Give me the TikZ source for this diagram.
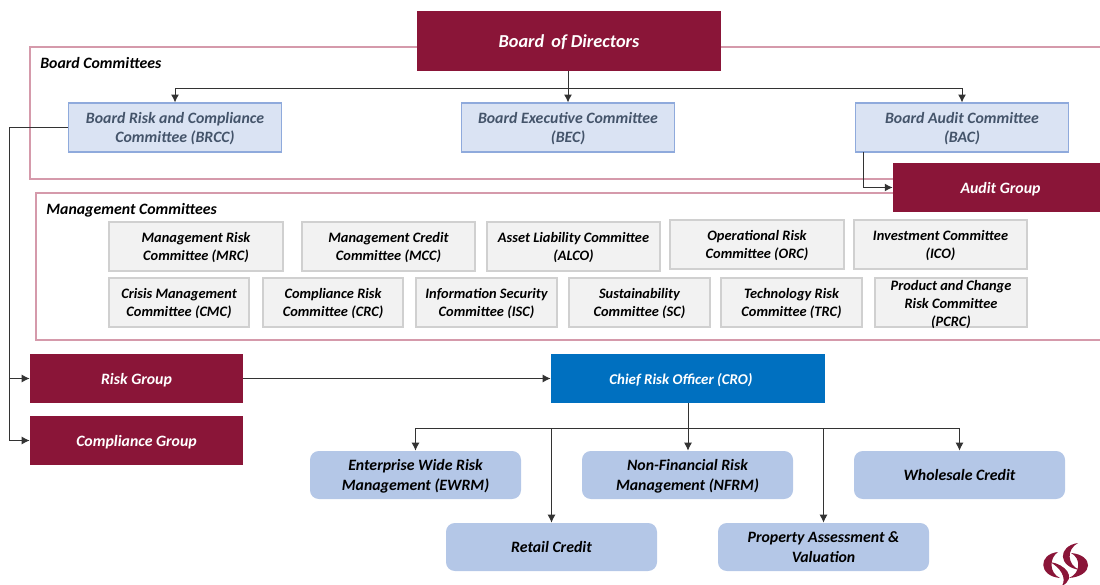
\documentclass[tikz,border=0pt]{standalone}
\usepackage{fontspec}
\setmainfont{Carlito}
\usepackage{xcolor}
\usepackage{tikz}
\usetikzlibrary{arrows.meta}
\definecolor{wine}{HTML}{8A1538}
\definecolor{framerose}{HTML}{D59AAB}
\definecolor{boardfill}{HTML}{DAE3F3}
\definecolor{boardline}{HTML}{8FAADC}
\definecolor{boardtext}{HTML}{44546A}
\definecolor{mgmtfill}{HTML}{F2F2F2}
\definecolor{mgmtline}{HTML}{D0D0D0}
\definecolor{croblue}{HTML}{0070C0}
\definecolor{deptfill}{HTML}{B4C7E7}
\definecolor{linkgrey}{HTML}{333333}
\tikzset{
  every node/.style={font=\bfseries\itshape\fontsize{9}{11.3}\selectfont, align=center, inner sep=0pt, text depth=0pt},
  winebox/.style={fill=wine, text=white, minimum height=0.98cm},
  boardbox/.style={draw=boardline, fill=boardfill, text=boardtext, line width=0.6pt, minimum width=4.26cm, minimum height=0.98cm},
  mgmtbox/.style={draw=mgmtline, fill=mgmtfill, line width=0.6pt, minimum height=0.98cm, font=\bfseries\itshape\fontsize{8.2}{10.2}\selectfont},
  deptbox/.style={fill=deptfill, rounded corners=5pt, minimum width=4.22cm, minimum height=0.96cm},
  frame/.style={draw=framerose, line width=0.7pt},
  link/.style={draw=linkgrey, line width=0.55pt},
  linkarrow/.style={link, -{Latex[length=4.5pt,width=4.5pt]}}
}

\begin{document}
\begin{tikzpicture}
        \useasboundingbox (0,0) rectangle (22,-11.7);

        % Frames
        \draw[frame] (0.6,-0.94) rectangle (22.2,-3.58);
        \draw[frame] (0.72,-3.86) rectangle (22.2,-6.8);
        \node[anchor=west] (boardtitle) at (0.8,-1.25) {Board Committees};
        \node[anchor=west] (mgmttitle) at (0.92,-4.17) {Management Committees};

        % Board
        \node[winebox, minimum width=6.08cm, minimum height=1.2cm, font=\bfseries\itshape\fontsize{10.4}{12}\selectfont] (bod) at (11.38,-0.82) {Board\, of Directors};
        \node[boardbox] (brcc) at (3.5,-2.55) {Board Risk and Compliance\\Committee (BRCC)};
        \node[boardbox] (bec) at (11.36,-2.55) {Board Executive Committee\\(BEC)};
        \node[boardbox] (bac) at (19.24,-2.55) {Board Audit Committee\\(BAC)};
        \node[winebox, minimum width=4.3cm] (audit) at (20.01,-3.75) {Audit Group};

        % Management committees
        \node[mgmtbox, minimum width=3.48cm] (mrc) at (3.92,-4.93) {Management Risk\\Committee (MRC)};
        \node[mgmtbox, minimum width=3.46cm] (mcc) at (7.77,-4.93) {Management Credit\\Committee (MCC)};
        \node[mgmtbox, minimum width=3.46cm] (alco) at (11.47,-4.93) {Asset Liability Committee\\(ALCO)};
        \node[mgmtbox, minimum width=3.48cm] (orc) at (15.14,-4.89) {Operational Risk\\Committee (ORC)};
        \node[mgmtbox, minimum width=3.46cm] (ico) at (18.81,-4.89) {Investment Committee\\(ICO)};
        \node[mgmtbox, minimum width=2.8cm] (cmc) at (3.58,-6.05) {Crisis Management\\Committee (CMC)};
        \node[mgmtbox, minimum width=2.8cm] (crc) at (6.66,-6.05) {Compliance Risk\\Committee (CRC)};
        \node[mgmtbox, minimum width=2.82cm] (isc) at (9.73,-6.05) {Information Security\\Committee (ISC)};
        \node[mgmtbox, minimum width=2.82cm] (sc) at (12.79,-6.05) {Sustainability\\Committee (SC)};
        \node[mgmtbox, minimum width=2.82cm] (trc) at (15.83,-6.05) {Technology Risk\\Committee (TRC)};
        \node[mgmtbox, minimum width=3.04cm, text height=27.6pt] (pcrc) at (19.02,-6.05) {Product and Change\\Risk Committee\\(PCRC)};

        % Groups and CRO
        \node[winebox, minimum width=4.26cm] (risk) at (2.73,-7.57) {Risk Group};
        \node[winebox, minimum width=4.26cm] (comp) at (2.73,-8.81) {Compliance Group};
        \node[fill=croblue, text=white, minimum width=5.48cm, minimum height=0.98cm, font=\bfseries\itshape\fontsize{8.5}{10}\selectfont] (cro) at (13.76,-7.57) {Chief Risk Officer (CRO)\hspace*{8pt}};

        % Departments
        \node[deptbox] (ewrm) at (8.31,-9.5) {Enterprise Wide Risk\\Management (EWRM)};
        \node[deptbox] (nfrm) at (13.75,-9.5) {Non-Financial Risk\\Management (NFRM)};
        \node[deptbox] (whole) at (19.19,-9.5) {Wholesale Credit};
        \node[deptbox] (retail) at (11.03,-10.94) {Retail Credit};
        \node[deptbox] (prop) at (16.47,-10.94) {Property Assessment \&\\Valuation};

        % Connectors
        \coordinate (boardbus) at (11.36,-1.76);
        \coordinate (spine) at (0.18,-2.55);
        \coordinate (acfoot) at (17.26,-3.04);
        \coordinate (crobus) at (13.76,-8.56);
        \draw[link] (bod.south -| bec.north) -- (boardbus);
        \draw[linkarrow] (boardbus) -- (bec.north);
        \draw[linkarrow] (boardbus) -| (brcc.north);
        \draw[linkarrow] (boardbus) -| (bac.north);
        \draw[link] (brcc.west) -- (spine);
        \draw[linkarrow] (spine) |- (risk.west);
        \draw[linkarrow] (spine) |- (comp.west);
        \draw[linkarrow] (acfoot) |- (audit.west);
        \draw[linkarrow] (risk.east) -- (cro.west);
        \draw[link] (cro.south) -- (crobus);
        \draw[linkarrow] (crobus) -| (ewrm.north);
        \draw[linkarrow] (crobus) -- (nfrm.north -| crobus);
        \draw[linkarrow] (crobus) -| (whole.north);
        \draw[linkarrow] (crobus) -| (retail.north);
        \draw[linkarrow] (crobus) -| (prop.north);

        % Logo
        \fill[wine] (21.16,-11.04) .. controls (20.76,-11.08) and (20.76,-11.52) .. (21.2,-11.56) .. controls (20.98,-11.46) and (20.98,-11.16) .. (21.16,-11.04);
        \fill[wine] (21.56,-10.86) .. controls (21.15,-10.92) and (21.15,-11.34) .. (21.6,-11.4) .. controls (21.33,-11.3) and (21.33,-10.98) .. (21.56,-10.86);
        \fill[wine] (21.42,-11.06) .. controls (21.88,-11.1) and (21.88,-11.52) .. (21.38,-11.56) .. controls (21.62,-11.46) and (21.62,-11.16) .. (21.42,-11.06);
        \fill[wine] (21.0,-11.24) .. controls (21.3,-11.28) and (21.55,-11.55) .. (21.24,-11.72) .. controls (21.34,-11.55) and (21.2,-11.35) .. (21.0,-11.24);
\end{tikzpicture}
\end{document}
